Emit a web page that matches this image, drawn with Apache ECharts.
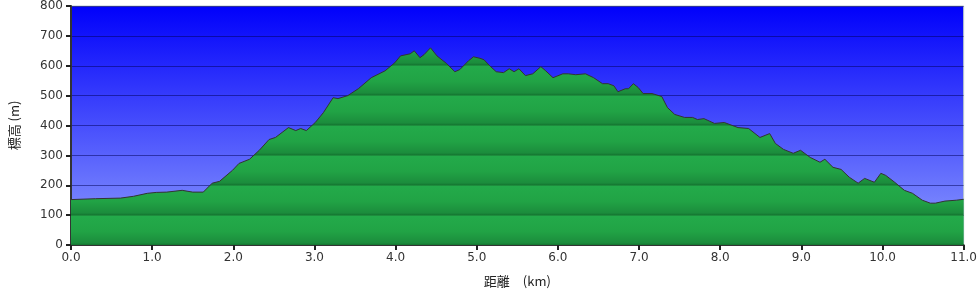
<!DOCTYPE html>
<html><head><meta charset="utf-8">
<script src="https://cdn.jsdelivr.net/npm/echarts@6/dist/echarts.min.js"></script>
<style>html,body{margin:0;padding:0;background:#fff}#c{width:980px;height:298px}</style>
</head><body><div id="c"></div>
<script>
var distanceKm = [0.00,0.30,0.61,0.77,0.94,1.05,1.18,1.37,1.50,1.63,1.74,1.83,1.99,2.07,2.20,2.32,2.44,2.52,2.68,2.77,2.83,2.90,3.01,3.11,3.23,3.29,3.41,3.54,3.70,3.87,3.99,4.06,4.18,4.23,4.30,4.35,4.43,4.51,4.63,4.73,4.79,4.90,4.96,5.04,5.09,5.16,5.24,5.33,5.40,5.46,5.52,5.60,5.69,5.79,5.85,5.94,6.06,6.13,6.22,6.34,6.44,6.55,6.62,6.69,6.74,6.83,6.87,6.93,6.99,7.05,7.16,7.28,7.35,7.44,7.56,7.66,7.72,7.80,7.93,8.05,8.22,8.35,8.49,8.61,8.68,8.78,8.90,8.99,9.11,9.23,9.29,9.39,9.49,9.59,9.70,9.78,9.90,9.98,10.04,10.15,10.27,10.37,10.49,10.59,10.65,10.77,10.91,11.00];
var elevationM = [152,155,157,163,173,176,177,183,177,177,207,213,250,273,287,317,353,360,393,383,390,383,410,443,493,490,500,523,560,583,610,633,640,650,627,637,660,633,607,580,587,617,630,625,620,600,580,577,590,580,590,567,573,597,583,560,573,573,570,573,560,540,540,533,513,523,523,540,527,507,507,497,460,437,427,427,420,423,407,410,393,390,360,373,340,320,307,317,293,277,287,260,253,227,207,223,210,240,233,210,183,173,150,140,140,147,150,153];
var yMin = 0, yMax = 800, yStep = 100;
var xMin = 0, xMax = 11, xStep = 1;
var xTitle = '距離\u3000(km)';
var yTitle = '標高 (m)';

(function(){
var gridTop = 5, gridBottom = 53, gridLeft = 70, gridRight = 7;
var H = 298;
var plotTop = gridTop, plotBottom = H - gridBottom, plotH = plotBottom - plotTop;
var bands = (yMax - yMin) / yStep;
var bandPx = plotH / bands;
var stops = [];
function off(px){ return Math.min(1, Math.max(0, (px - plotTop) / plotH)); }
for (var k = 0; k < bands; k++) {
  var bTop = plotTop + k * bandPx, bBot = bTop + bandPx;
  stops.push({offset: off(bTop), color: '#1a7e36'});
  stops.push({offset: off(bTop + 1.5), color: '#23aa4a'});
  stops.push({offset: off(bTop + bandPx * 0.55), color: '#21a345'});
  stops.push({offset: off(bBot - 2), color: '#1b8c3c'});
  stops.push({offset: off(bBot - 0.6), color: '#167a33'});
}
var chart = echarts.init(document.getElementById('c'), null, {renderer: 'canvas'});
var font = 'DejaVu Sans, Verdana, sans-serif';
chart.setOption({
  animation: false,
  textStyle: {fontFamily: font},
  grid: {left: gridLeft, right: gridRight, top: gridTop, bottom: gridBottom, show: true,
    borderColor: '#b8c8cc', borderWidth: 1,
    backgroundColor: new echarts.graphic.LinearGradient(0, 0, 0, 1, [
      {offset: 0, color: '#0000fb'}, {offset: 1, color: '#8e9dfe'}])},
  xAxis: {type: 'value', min: xMin, max: xMax, interval: xStep,
    name: xTitle, nameLocation: 'middle', nameGap: 30,
    nameTextStyle: {fontFamily: 'Noto Sans CJK JP', fontSize: 13, color: '#222'},
    axisLine: {show: true, onZero: false, lineStyle: {color: '#333', width: 2}},
    axisTick: {show: true, length: 5, lineStyle: {color: '#222', width: 2}},
    axisLabel: {color: '#333', fontSize: 12, margin: 7, formatter: function(v){return v.toFixed(1);}},
    splitLine: {show: false}},
  yAxis: {type: 'value', min: yMin, max: yMax, interval: yStep,
    name: yTitle, nameLocation: 'middle', nameGap: 50, nameRotate: 90,
    nameTextStyle: {fontFamily: 'Noto Sans CJK JP', fontSize: 13, color: '#222'},
    axisLine: {show: true, lineStyle: {color: '#333', width: 2}},
    axisTick: {show: true, length: 5, lineStyle: {color: '#222', width: 2}},
    axisLabel: {color: '#333', fontSize: 12, margin: 8},
    splitLine: {show: true, lineStyle: {color: 'rgba(0,0,90,0.5)', width: 1}}},
  series: [{type: 'line', data: distanceKm.map(function(d,i){return [d, elevationM[i]];}),
    symbol: 'none', smooth: false,
    lineStyle: {color: '#333', width: 1},
    areaStyle: {opacity: 1, color: new echarts.graphic.LinearGradient(0, plotTop, 0, plotBottom, stops, true)}}]
});
})();
</script></body></html>
